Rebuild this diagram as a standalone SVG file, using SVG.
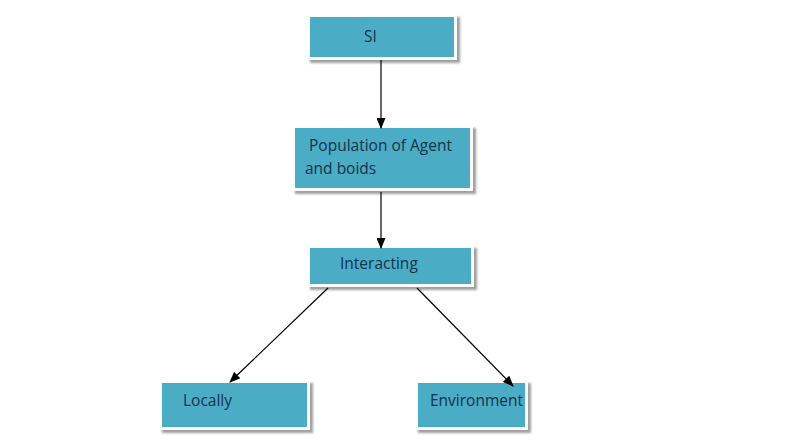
<svg xmlns="http://www.w3.org/2000/svg" width="793" height="448" viewBox="0 0 793 448">
<defs>
<marker id="ah" markerWidth="11" markerHeight="9" refX="10" refY="4.5" orient="auto" markerUnits="userSpaceOnUse">
<path d="M0,0 L11,4.5 L0,9 Z" fill="#000"/>
</marker>
<filter id="sh" x="-5%" y="-10%" width="115%" height="130%">
<feDropShadow dx="3" dy="3" stdDeviation="1" flood-color="#777" flood-opacity="0.7"/>
</filter>
</defs>
<style>
.frame{fill:#ffffff;filter:url(#sh)}
.box{fill:#4bacc6}
.t{font-family:"Open Sans","Liberation Sans",sans-serif;font-size:15.5px;fill:#17324a}
.c{stroke:#000;stroke-width:1.2;fill:none;marker-end:url(#ah)}
</style>
<rect width="793" height="448" fill="#fff"/>
<g id="si">
<rect class="frame" x="307" y="14" width="150" height="46"/>
<rect class="box" x="310" y="17" width="144" height="40"/>
<text class="t" x="364" y="42">SI</text>
</g>
<g id="population">
<rect class="frame" x="292" y="125" width="181" height="66"/>
<rect class="box" x="295" y="128" width="175" height="60"/>
<text class="t" x="309" y="151">Population of Agent</text>
<text class="t" x="305" y="174">and boids</text>
</g>
<g id="interacting">
<rect class="frame" x="307" y="245" width="167" height="42"/>
<rect class="box" x="310" y="248" width="161" height="36"/>
<text class="t" x="340" y="269">Interacting</text>
</g>
<g id="locally">
<rect class="frame" x="159" y="380" width="151" height="50"/>
<rect class="box" x="162" y="383" width="145" height="44"/>
<text class="t" x="183" y="406">Locally</text>
</g>
<g id="environment">
<rect class="frame" x="415" y="380" width="113" height="50"/>
<rect class="box" x="418" y="383" width="107" height="44"/>
<text class="t" x="430" y="406">Environment</text>
</g>
<g id="connectors">
<line class="c" x1="381" y1="60" x2="381" y2="128"/>
<line class="c" x1="381" y1="192" x2="381" y2="248"/>
<line class="c" x1="328" y1="288" x2="230" y2="382"/>
<line class="c" x1="417" y1="288" x2="513" y2="386"/>
</g>
</svg>
